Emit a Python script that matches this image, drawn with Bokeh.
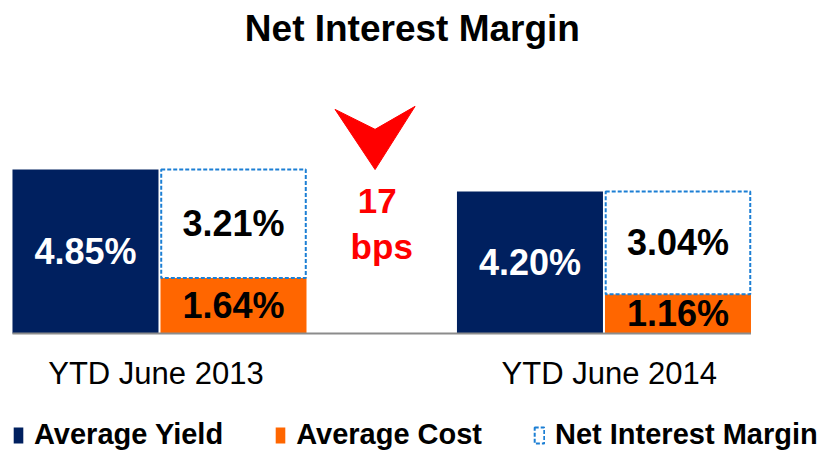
from bokeh.plotting import figure
from bokeh.models import Range1d, ColumnDataSource, Legend, LegendItem
from bokeh.core.properties import value
from bokeh.embed import file_html
from bokeh.resources import INLINE

# ---- data ----
groups = [0, 1]
periods = ["YTD June 2013", "YTD June 2014"]
avg_yield = [4.85, 4.20]
avg_cost = [1.64, 1.16]
nim = [3.21, 3.04]

NAVY = "#00205F"
ORANGE = "#FF6600"
DASH_BLUE = "#1C7FD4"
RED = "#FF0000"
FONT = value("Liberation Sans")

BAR_W = 0.3285
OFF = 0.1665

p = figure(width=825, height=451, output_backend="svg", toolbar_location=None,
           x_range=Range1d(-0.3577, 1.4984), y_range=Range1d(-3.491, 9.852),
           min_border=0, outline_line_color=None)
p.axis.visible = False
p.grid.visible = False
p.background_fill_color = "white"

src = ColumnDataSource(dict(
    g=groups,
    glab=[g - 0.008 if g == 0 else g + 0.012 for g in groups],
    gy=[g - OFF for g in groups],
    gc=[g + OFF for g in groups],
    yld=avg_yield,
    cost=avg_cost,
    nim=nim,
    top_nim=[c + n for c, n in zip(avg_cost, nim)],
    ylab=[f"{v:.2f}%" for v in avg_yield],
    clab=[f"{v:.2f}%" for v in avg_cost],
    nlab=[f"{v:.2f}%" for v in nim],
    ymid=[v / 2 for v in avg_yield],
    cmid=[v / 2 for v in avg_cost],
    nmid=[c + n / 2 for c, n in zip(avg_cost, nim)],
    period=periods,
))

r_y = p.vbar(x="gy", top="yld", bottom=0, width=BAR_W, source=src,
             fill_color=NAVY, line_color=None)
r_c = p.vbar(x="gc", top="cost", bottom=0, width=BAR_W, source=src,
             fill_color=ORANGE, line_color=None)
r_n = p.vbar(x="gc", top="top_nim", bottom="cost", width=BAR_W * 0.99, source=src,
             fill_color="white", line_color=DASH_BLUE, line_width=2,
             line_dash="4 2")

# baseline
p.segment(x0=[groups[0] - OFF - BAR_W / 2], x1=[groups[-1] + OFF + BAR_W / 2],
          y0=[0], y1=[0], line_color="#8C8C8C", line_width=2)

# value labels
common = dict(text_font=FONT, text_font_style="bold", text_font_size="36px",
              text_align="center", text_baseline="middle", source=src)
p.text(x="gy", y="ymid", text="ylab", text_color="white", **common)
p.text(x="gc", y="cmid", text="clab", text_color="black", **common)
p.text(x="gc", y="nmid", text="nlab", text_color="black", **common)

# category labels
p.text(x="glab", y=-1.18, text="period", text_font=FONT, text_font_size="31px",
       text_align="center", text_baseline="middle", text_color="black", source=src)

# title
p.text(x=[0.569], y=[9.02], text=["Net Interest Margin"], text_font=FONT,
       text_font_style="bold", text_font_size="37px", text_align="center",
       text_baseline="middle", text_color="black")

# change annotation
mid = 0.485
bps = round((nim[0] - nim[1]) * 100)
hw = 0.09
p.patch(x=[mid - hw, mid, mid + hw, mid], y=[6.63, 6.04, 6.72, 4.85],
        fill_color=RED, line_color=RED)
p.text(x=[mid + 0.005, mid + 0.015], y=[3.93, 2.57], text=[str(bps), "bps"],
       text_font=FONT, text_font_style="bold", text_font_size="35px",
       text_align="center", text_baseline="middle", text_color=RED)

legend = Legend(items=[
    LegendItem(label="Average Yield", renderers=[r_y]),
    LegendItem(label="Average Cost", renderers=[r_c]),
    LegendItem(label="Net Interest Margin", renderers=[r_n]),
], orientation="horizontal", location=(12, 0), spacing=51, label_standoff=10,
    glyph_width=12, glyph_height=20, padding=0, margin=0,
    border_line_alpha=0, background_fill_alpha=0,
    label_text_font="Liberation Sans", label_text_font_style="bold",
    label_text_font_size="29px", label_text_color="black")
p.add_layout(legend)

open("out.html", "w").write(file_html(p, INLINE))
